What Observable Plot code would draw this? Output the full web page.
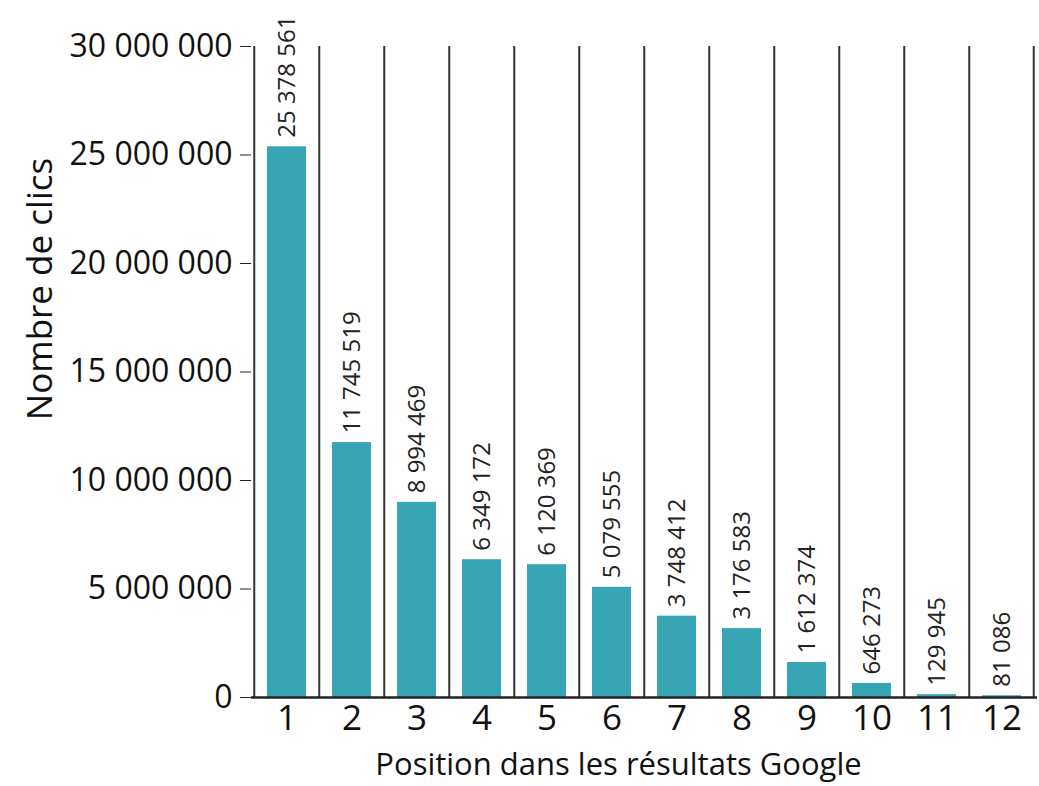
<!DOCTYPE html>
<html>
<head>
<meta charset="utf-8">
<script src="https://cdn.jsdelivr.net/npm/d3@7"></script>
<script src="https://cdn.jsdelivr.net/npm/@observablehq/plot@0.6"></script>
<style>
  html, body { margin: 0; padding: 0; background: #fff; }
  #chart svg { display: block; }
</style>
</head>
<body>
<div id="chart"></div>
<script>
const positions = [1, 2, 3, 4, 5, 6, 7, 8, 9, 10, 11, 12];
const clicks = [25378561, 11745519, 8994469, 6349172, 6120369, 5079555, 3748412, 3176583, 1612374, 646273, 129945, 81086];
const yTicks = [0, 5000000, 10000000, 15000000, 20000000, 25000000, 30000000];
const xTitle = "Position dans les résultats Google";
const yTitle = "Nombre de clics";

const data = positions.map((p, i) => ({position: p, clicks: clicks[i]}));
const fmt = v => d3.format(",")(v).replace(/,/g, " ");

const W = 1039, H = 786;
const mL = 251, mR = 2, mT = 46, mB = 89;
const step = (W - mL - mR) / positions.length;

const chart = Plot.plot({
  width: W,
  height: H,
  marginLeft: mL,
  marginRight: mR,
  marginTop: mT,
  marginBottom: mB,
  style: {fontFamily: "Open Sans", color: "#111", background: "#fff"},
  x: {type: "band", domain: positions, paddingInner: 0.4, paddingOuter: 0.2, label: null},
  y: {domain: [0, 30000000], label: null},
  marks: [
    Plot.barY(data, {x: "position", y: "clicks", fill: "#38a5b5"}),
    Plot.ruleX(positions, {x: d => d, dx: -step / 2, y1: 0, y2: 30000000, stroke: "#333", strokeWidth: 2}),
    Plot.ruleX(positions.slice(-1), {x: d => d, dx: step / 2 - 1, y1: 0, y2: 30000000, stroke: "#333", strokeWidth: 2}),
    Plot.ruleY([0], {stroke: "#222", strokeWidth: 2.5}),
    Plot.text(data, {
      x: "position", y: "clicks", text: d => fmt(d.clicks),
      rotate: -90, textAnchor: "start", dy: -9, fontSize: 24, fill: "#222"
    }),
    Plot.axisY({ticks: yTicks, tickFormat: fmt, fontSize: 32, tickSize: 11, tickPadding: 8, label: null, stroke: "#222"}),
    Plot.axisX({domain: positions, fontSize: 35, tickSize: 0, tickPadding: 8, label: null}),
    Plot.text([yTitle], {frameAnchor: "left", dx: -211, dy: -83, rotate: -90, fontSize: 35, fill: "#111", textAnchor: "middle"}),
    Plot.text([xTitle], {frameAnchor: "bottom", lineAnchor: "middle", dy: 68, dx: -26, fontSize: 31, fill: "#111"})
  ]
});
document.getElementById("chart").appendChild(chart);
</script>
</body>
</html>
